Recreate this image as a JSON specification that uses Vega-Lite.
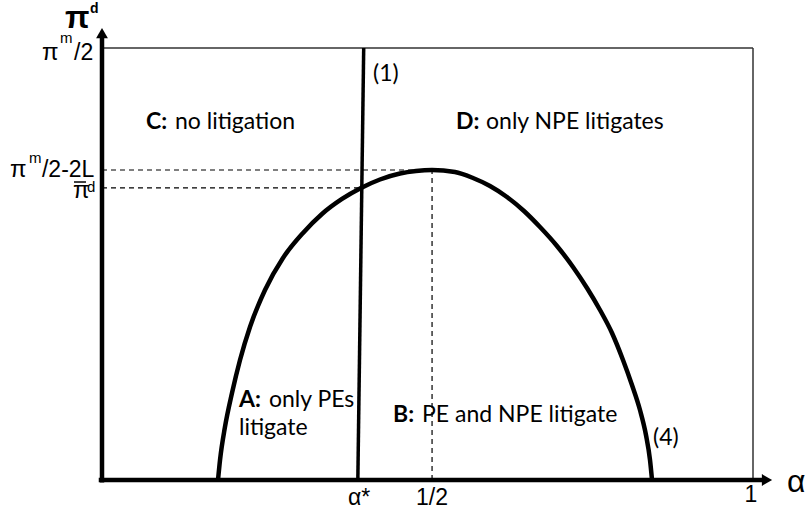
{
  "$schema": "https://vega.github.io/schema/vega-lite/v6.json",
  "width": 809,
  "height": 521,
  "padding": 0,
  "autosize": {"type": "none"},
  "config": {"view": {"stroke": null}},
  "datasets": {
    "thick": [
      {"x": 0, "y": -0.006, "x2": 0, "y2": 1.023},
      {"x": -0.005, "y": 0, "x2": 1.0154, "y2": 0}
    ],
    "line1": [
      {"x": 0.393, "y": 0, "x2": 0.402, "y2": 1}
    ],
    "thin": [
      {"x": 0, "y": 1, "x2": 1, "y2": 1},
      {"x": 1, "y": 0, "x2": 1, "y2": 1}
    ],
    "macron": [
      {"x": -0.043, "y": 0.6898, "x2": -0.0246, "y2": 0.6898}
    ],
    "dashed": [
      {"x": 0, "y": 0.7176, "x2": 0.507, "y2": 0.7176},
      {"x": 0, "y": 0.676, "x2": 0.396, "y2": 0.676},
      {"x": 0.507, "y": 0, "x2": 0.507, "y2": 0.7176}
    ],
    "curve": [
      {"i": 0, "x": 0.1782, "y": 0},
      {"i": 1, "x": 0.1813, "y": 0.0463},
      {"i": 2, "x": 0.1889, "y": 0.1227},
      {"i": 3, "x": 0.1997, "y": 0.2014},
      {"i": 4, "x": 0.2120, "y": 0.2778},
      {"i": 5, "x": 0.2273, "y": 0.3542},
      {"i": 6, "x": 0.2504, "y": 0.4398},
      {"i": 7, "x": 0.2780, "y": 0.5139},
      {"i": 8, "x": 0.3088, "y": 0.5718},
      {"i": 9, "x": 0.3379, "y": 0.6157},
      {"i": 10, "x": 0.3687, "y": 0.6505},
      {"i": 11, "x": 0.3978, "y": 0.6759},
      {"i": 12, "x": 0.4270, "y": 0.6956},
      {"i": 13, "x": 0.4578, "y": 0.7095},
      {"i": 14, "x": 0.4823, "y": 0.7153},
      {"i": 15, "x": 0.5069, "y": 0.7176},
      {"i": 16, "x": 0.5422, "y": 0.7130},
      {"i": 17, "x": 0.5699, "y": 0.6991},
      {"i": 18, "x": 0.5960, "y": 0.6806},
      {"i": 19, "x": 0.6221, "y": 0.6551},
      {"i": 20, "x": 0.6482, "y": 0.6227},
      {"i": 21, "x": 0.6728, "y": 0.5856},
      {"i": 22, "x": 0.6989, "y": 0.5417},
      {"i": 23, "x": 0.7235, "y": 0.4931},
      {"i": 24, "x": 0.7450, "y": 0.4444},
      {"i": 25, "x": 0.7650, "y": 0.3935},
      {"i": 26, "x": 0.7834, "y": 0.3403},
      {"i": 27, "x": 0.8003, "y": 0.2778},
      {"i": 28, "x": 0.8141, "y": 0.2199},
      {"i": 29, "x": 0.8264, "y": 0.1620},
      {"i": 30, "x": 0.8356, "y": 0.1042},
      {"i": 31, "x": 0.8418, "y": 0.0463},
      {"i": 32, "x": 0.8449, "y": 0}
    ],
    "arrowUp": [{"x": 0, "y": 1.0347}],
    "arrowRight": [{"x": 1.0215, "y": 0}],
    "regionBold": [
      {"x": 0.0676, "y": 0.8125, "t": "C:"},
      {"x": 0.5438, "y": 0.8125, "t": "D:"},
      {"x": 0.2104, "y": 0.1690, "t": "A:"},
      {"x": 0.4470, "y": 0.1343, "t": "B:"}
    ],
    "regionText": [
      {"x": 0.1121, "y": 0.8125, "t": "no litigation"},
      {"x": 0.5899, "y": 0.8125, "t": "only NPE litigates"},
      {"x": 0.2565, "y": 0.1690, "t": "only PEs"},
      {"x": 0.2104, "y": 0.1042, "t": "litigate"},
      {"x": 0.4916, "y": 0.1343, "t": "PE and NPE litigate"},
      {"x": 0.4163, "y": 0.9236, "t": "(1)"},
      {"x": 0.8464, "y": 0.0810, "t": "(4)"}
    ],
    "mathPi": [
      {"x": -0.0922, "y": 0.9722, "t": "π"},
      {"x": -0.1413, "y": 0.7014, "t": "π"},
      {"x": -0.0446, "y": 0.6528, "t": "π"}
    ],
    "mathLeft": [
      {"x": -0.0430, "y": 0.9722, "t": "/2"},
      {"x": -0.0922, "y": 0.7014, "t": "/2-2L"}
    ],
    "mathSup": [
      {"x": -0.0645, "y": 1.0116, "t": "m"},
      {"x": -0.1121, "y": 0.7338, "t": "m"},
      {"x": -0.0230, "y": 0.6667, "t": "d"}
    ],
    "mathCenter": [
      {"x": 0.3948, "y": -0.0579, "t": "α*"},
      {"x": 0.5069, "y": -0.0579, "t": "1/2"},
      {"x": 0.9969, "y": -0.0509, "t": "1"}
    ],
    "alphaBig": [{"x": 1.0522, "y": -0.0278, "t": "α"}],
    "piBig": [{"x": -0.0568, "y": 1.0463, "t": "π"}],
    "piSup": [{"x": -0.0184, "y": 1.0810, "t": "d"}]
  },
  "layer": [
    {
      "data": {"name": "dashed"},
      "mark": {"type": "rule", "color": "#000", "strokeWidth": 1.2, "strokeDash": [5, 4]},
      "encoding": {
        "x": {"field": "x", "type": "quantitative", "scale": {"domain": [-0.15668, 1.08602], "nice": false, "zero": false}, "axis": null},
        "y": {"field": "y", "type": "quantitative", "scale": {"domain": [-0.09491, 1.11111], "nice": false, "zero": false}, "axis": null},
        "x2": {"field": "x2"},
        "y2": {"field": "y2"}
      }
    },
    {
      "data": {"name": "thin"},
      "mark": {"type": "rule", "color": "#333", "strokeWidth": 1.5},
      "encoding": {
        "x": {"field": "x", "type": "quantitative", "scale": {"domain": [-0.15668, 1.08602], "nice": false, "zero": false}, "axis": null},
        "y": {"field": "y", "type": "quantitative", "scale": {"domain": [-0.09491, 1.11111], "nice": false, "zero": false}, "axis": null},
        "x2": {"field": "x2"},
        "y2": {"field": "y2"}
      }
    },
    {
      "data": {"name": "macron"},
      "mark": {"type": "rule", "color": "#000", "strokeWidth": 1.5},
      "encoding": {
        "x": {"field": "x", "type": "quantitative", "scale": {"domain": [-0.15668, 1.08602], "nice": false, "zero": false}, "axis": null},
        "y": {"field": "y", "type": "quantitative", "scale": {"domain": [-0.09491, 1.11111], "nice": false, "zero": false}, "axis": null},
        "x2": {"field": "x2"},
        "y2": {"field": "y2"}
      }
    },
    {
      "data": {"name": "line1"},
      "mark": {"type": "rule", "color": "#000", "strokeWidth": 3.5},
      "encoding": {
        "x": {"field": "x", "type": "quantitative", "scale": {"domain": [-0.15668, 1.08602], "nice": false, "zero": false}, "axis": null},
        "y": {"field": "y", "type": "quantitative", "scale": {"domain": [-0.09491, 1.11111], "nice": false, "zero": false}, "axis": null},
        "x2": {"field": "x2"},
        "y2": {"field": "y2"}
      }
    },
    {
      "data": {"name": "curve"},
      "mark": {"type": "line", "color": "#000", "strokeWidth": 4.5, "interpolate": "monotone"},
      "encoding": {
        "x": {"field": "x", "type": "quantitative", "scale": {"domain": [-0.15668, 1.08602], "nice": false, "zero": false}, "axis": null},
        "y": {"field": "y", "type": "quantitative", "scale": {"domain": [-0.09491, 1.11111], "nice": false, "zero": false}, "axis": null},
        "order": {"field": "i", "type": "quantitative"}
      }
    },
    {
      "data": {"name": "thick"},
      "mark": {"type": "rule", "color": "#000", "strokeWidth": 4.5},
      "encoding": {
        "x": {"field": "x", "type": "quantitative", "scale": {"domain": [-0.15668, 1.08602], "nice": false, "zero": false}, "axis": null},
        "y": {"field": "y", "type": "quantitative", "scale": {"domain": [-0.09491, 1.11111], "nice": false, "zero": false}, "axis": null},
        "x2": {"field": "x2"},
        "y2": {"field": "y2"}
      }
    },
    {
      "data": {"name": "arrowUp"},
      "mark": {"type": "point", "shape": "triangle-up", "filled": true, "color": "#000", "size": 140, "opacity": 1},
      "encoding": {
        "x": {"field": "x", "type": "quantitative", "scale": {"domain": [-0.15668, 1.08602], "nice": false, "zero": false}, "axis": null},
        "y": {"field": "y", "type": "quantitative", "scale": {"domain": [-0.09491, 1.11111], "nice": false, "zero": false}, "axis": null}
      }
    },
    {
      "data": {"name": "arrowRight"},
      "mark": {"type": "point", "shape": "triangle-right", "filled": true, "color": "#000", "size": 140, "opacity": 1},
      "encoding": {
        "x": {"field": "x", "type": "quantitative", "scale": {"domain": [-0.15668, 1.08602], "nice": false, "zero": false}, "axis": null},
        "y": {"field": "y", "type": "quantitative", "scale": {"domain": [-0.09491, 1.11111], "nice": false, "zero": false}, "axis": null}
      }
    },
    {
      "data": {"name": "regionBold"},
      "mark": {"type": "text", "align": "left", "baseline": "alphabetic", "font": "Lato", "fontSize": 23, "fontWeight": "bold", "color": "#000"},
      "encoding": {
        "x": {"field": "x", "type": "quantitative", "scale": {"domain": [-0.15668, 1.08602], "nice": false, "zero": false}, "axis": null},
        "y": {"field": "y", "type": "quantitative", "scale": {"domain": [-0.09491, 1.11111], "nice": false, "zero": false}, "axis": null},
        "text": {"field": "t"}
      }
    },
    {
      "data": {"name": "regionText"},
      "mark": {"type": "text", "align": "left", "baseline": "alphabetic", "font": "Lato", "fontSize": 23, "color": "#000"},
      "encoding": {
        "x": {"field": "x", "type": "quantitative", "scale": {"domain": [-0.15668, 1.08602], "nice": false, "zero": false}, "axis": null},
        "y": {"field": "y", "type": "quantitative", "scale": {"domain": [-0.09491, 1.11111], "nice": false, "zero": false}, "axis": null},
        "text": {"field": "t"}
      }
    },
    {
      "data": {"name": "mathPi"},
      "mark": {"type": "text", "align": "left", "baseline": "alphabetic", "font": "Liberation Sans", "fontSize": 24, "color": "#000"},
      "encoding": {
        "x": {"field": "x", "type": "quantitative", "scale": {"domain": [-0.15668, 1.08602], "nice": false, "zero": false}, "axis": null},
        "y": {"field": "y", "type": "quantitative", "scale": {"domain": [-0.09491, 1.11111], "nice": false, "zero": false}, "axis": null},
        "text": {"field": "t"}
      }
    },
    {
      "data": {"name": "mathLeft"},
      "mark": {"type": "text", "align": "left", "baseline": "alphabetic", "font": "Liberation Sans", "fontSize": 23, "color": "#000"},
      "encoding": {
        "x": {"field": "x", "type": "quantitative", "scale": {"domain": [-0.15668, 1.08602], "nice": false, "zero": false}, "axis": null},
        "y": {"field": "y", "type": "quantitative", "scale": {"domain": [-0.09491, 1.11111], "nice": false, "zero": false}, "axis": null},
        "text": {"field": "t"}
      }
    },
    {
      "data": {"name": "mathSup"},
      "mark": {"type": "text", "align": "left", "baseline": "alphabetic", "font": "Liberation Sans", "fontSize": 15, "color": "#000"},
      "encoding": {
        "x": {"field": "x", "type": "quantitative", "scale": {"domain": [-0.15668, 1.08602], "nice": false, "zero": false}, "axis": null},
        "y": {"field": "y", "type": "quantitative", "scale": {"domain": [-0.09491, 1.11111], "nice": false, "zero": false}, "axis": null},
        "text": {"field": "t"}
      }
    },
    {
      "data": {"name": "mathCenter"},
      "mark": {"type": "text", "align": "center", "baseline": "alphabetic", "font": "Liberation Sans", "fontSize": 23, "color": "#000"},
      "encoding": {
        "x": {"field": "x", "type": "quantitative", "scale": {"domain": [-0.15668, 1.08602], "nice": false, "zero": false}, "axis": null},
        "y": {"field": "y", "type": "quantitative", "scale": {"domain": [-0.09491, 1.11111], "nice": false, "zero": false}, "axis": null},
        "text": {"field": "t"}
      }
    },
    {
      "data": {"name": "alphaBig"},
      "mark": {"type": "text", "align": "left", "baseline": "alphabetic", "font": "Liberation Sans", "fontSize": 32, "color": "#000"},
      "encoding": {
        "x": {"field": "x", "type": "quantitative", "scale": {"domain": [-0.15668, 1.08602], "nice": false, "zero": false}, "axis": null},
        "y": {"field": "y", "type": "quantitative", "scale": {"domain": [-0.09491, 1.11111], "nice": false, "zero": false}, "axis": null},
        "text": {"field": "t"}
      }
    },
    {
      "data": {"name": "piBig"},
      "mark": {"type": "text", "align": "left", "baseline": "alphabetic", "font": "Liberation Sans", "fontSize": 32, "fontWeight": "bold", "color": "#000"},
      "encoding": {
        "x": {"field": "x", "type": "quantitative", "scale": {"domain": [-0.15668, 1.08602], "nice": false, "zero": false}, "axis": null},
        "y": {"field": "y", "type": "quantitative", "scale": {"domain": [-0.09491, 1.11111], "nice": false, "zero": false}, "axis": null},
        "text": {"field": "t"}
      }
    },
    {
      "data": {"name": "piSup"},
      "mark": {"type": "text", "align": "left", "baseline": "alphabetic", "font": "Liberation Sans", "fontSize": 14, "fontWeight": "bold", "color": "#000"},
      "encoding": {
        "x": {"field": "x", "type": "quantitative", "scale": {"domain": [-0.15668, 1.08602], "nice": false, "zero": false}, "axis": null},
        "y": {"field": "y", "type": "quantitative", "scale": {"domain": [-0.09491, 1.11111], "nice": false, "zero": false}, "axis": null},
        "text": {"field": "t"}
      }
    }
  ]
}
